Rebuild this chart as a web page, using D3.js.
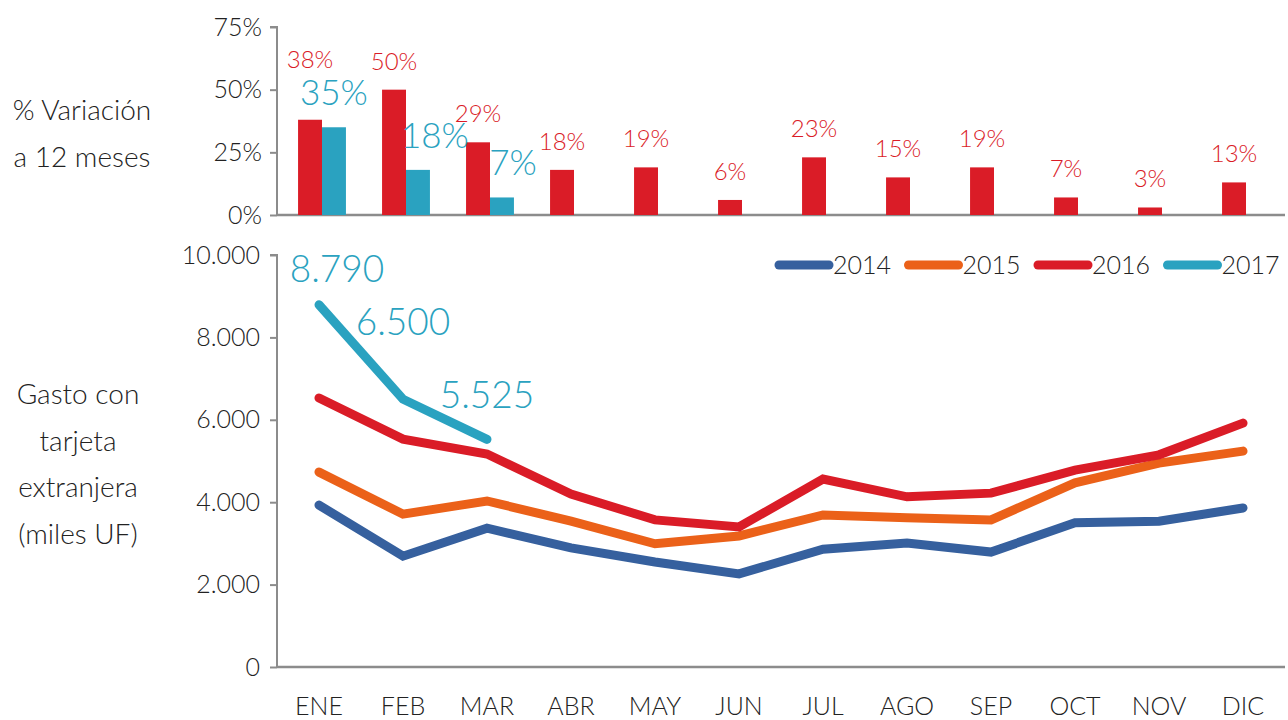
<!DOCTYPE html>
<html>
<head>
<meta charset="utf-8">
<script src="https://cdn.jsdelivr.net/npm/d3@7"></script>
<style>
  body { margin: 0; background: #fff; }
  svg { display: block; }
  svg text { font-family: Lato, "Noto Sans", sans-serif; font-weight: 300; }
</style>
</head>
<body>
<div id="chart"></div>
<script>
// data
const months = ["ENE", "FEB", "MAR", "ABR", "MAY", "JUN", "JUL", "AGO", "SEP", "OCT", "NOV", "DIC"];
const years = ["2014", "2015", "2016", "2017"];

const gasto2014 = [3930, 2690, 3370, 2890, 2550, 2260, 2860, 3010, 2790, 3500, 3540, 3860];
const gasto2015 = [4730, 3710, 4030, 3540, 2990, 3180, 3690, 3620, 3570, 4470, 4950, 5240];
const gasto2016 = [6530, 5530, 5170, 4200, 3570, 3400, 4560, 4130, 4220, 4780, 5150, 5920];
const gasto2017 = [8790, 6500, 5525];

const var2016 = [0.38, 0.50, 0.29, 0.18, 0.19, 0.06, 0.23, 0.15, 0.19, 0.07, 0.03, 0.13];
const var2017 = [0.35, 0.18, 0.07];

const pctTicks = [0, 0.25, 0.5, 0.75];
const gastoTicks = [0, 2000, 4000, 6000, 8000, 10000];

const colors = { "2014": "#36609e", "2015": "#eb6119", "2016": "#da1c27", "2017": "#2aa2c0" };

// 1) svg
const width = 1288, height = 720;
const svg = d3.select("#chart").append("svg")
  .attr("width", width).attr("height", height);

const left = 277, right = 1285;
const axisColor = "#8c8c8c";
const textColor = "#222";
const fmt = d3.formatLocale({ decimal: ",", thousands: ".", grouping: [3], currency: ["$", ""] });
const thousands = fmt.format(",.0f");

// 2) shared x
const x = d3.scaleBand().domain(months).range([left, right]).paddingInner(0.43).paddingOuter(0.215);
const xSub = d3.scaleBand().domain(["2016", "2017"]).range([0, x.bandwidth()]);
const xPoint = d => x(d) + x.bandwidth() / 2;
const barShift = 3;

// 3) top bar chart
const yTop = d3.scaleLinear().domain([0, 0.75]).range([215, 27]);

const topAxis = svg.append("g")
  .attr("transform", `translate(${left},0)`)
  .call(d3.axisLeft(yTop).tickValues(pctTicks).tickFormat(d3.format(".0%")).tickSize(7).tickPadding(8));
topAxis.attr("font-family", null);
topAxis.select(".domain").attr("d", `M-7,${yTop(0.75)}H0V${yTop(0)}`);
topAxis.selectAll("line, path").attr("stroke", axisColor).attr("stroke-width", 2);
topAxis.selectAll("text").attr("fill", textColor).style("font-size", "25px");

svg.append("line")
  .attr("x1", left).attr("x2", right).attr("y1", yTop(0)).attr("y2", yTop(0))
  .attr("stroke", axisColor).attr("stroke-width", 2.5);

const bars16 = var2016.map((v, i) => ({ m: months[i], v }));
const bars17 = var2017.map((v, i) => ({ m: months[i], v }));

svg.append("g").selectAll("rect").data(bars16).join("rect")
  .attr("x", d => x(d.m) + xSub("2016") + barShift)
  .attr("width", xSub.bandwidth())
  .attr("y", d => yTop(d.v))
  .attr("height", d => yTop(0) - yTop(d.v))
  .attr("fill", colors["2016"]);

svg.append("g").selectAll("rect").data(bars17).join("rect")
  .attr("x", d => x(d.m) + xSub("2017") + barShift)
  .attr("width", xSub.bandwidth())
  .attr("y", d => yTop(d.v))
  .attr("height", d => yTop(0) - yTop(d.v))
  .attr("fill", colors["2017"]);

// red labels, first one lifted above the cyan label
svg.append("g").selectAll("text").data(bars16).join("text")
  .attr("x", d => x(d.m) + xSub("2016") + xSub.bandwidth() / 2 + barShift)
  .attr("y", (d, i) => i === 0 ? yTop(0.5) - 22 : yTop(d.v) - 20)
  .attr("text-anchor", "middle")
  .attr("fill", colors["2016"])
  .style("font-size", "24px")
  .text(d => Math.round(d.v * 100) + "%");

const cyanNudge = [0, 17, 11];
svg.append("g").selectAll("text").data(bars17).join("text")
  .attr("x", (d, i) => x(d.m) + xSub("2017") + xSub.bandwidth() / 2 + barShift + cyanNudge[i])
  .attr("y", d => yTop(d.v) - 22)
  .attr("text-anchor", "middle")
  .attr("fill", colors["2017"])
  .style("font-size", "35px")
  .text(d => Math.round(d.v * 100) + "%");

// left titles
svg.append("text").attr("x", 82).attr("y", 120).attr("text-anchor", "middle")
  .attr("fill", textColor).style("font-size", "28px").text("% Variación");
svg.append("text").attr("x", 82).attr("y", 167).attr("text-anchor", "middle")
  .attr("fill", textColor).style("font-size", "28px").text("a 12 meses");

const gastoTitle = ["Gasto con", "tarjeta", "extranjera", "(miles UF)"];
svg.append("g").selectAll("text").data(gastoTitle).join("text")
  .attr("x", 78).attr("y", (d, i) => 404 + i * 46.5)
  .attr("text-anchor", "middle").attr("fill", textColor).style("font-size", "28px")
  .text(d => d);

// 4) bottom line chart
const y = d3.scaleLinear().domain([0, 10000]).range([667, 255]);

const yAxis = svg.append("g")
  .attr("transform", `translate(${left},0)`)
  .call(d3.axisLeft(y).tickValues(gastoTicks).tickFormat(thousands).tickSize(7).tickPadding(10));
yAxis.attr("font-family", null);
yAxis.select(".domain").attr("d", `M-7,${y(10000)}H0V${y(0)}`);
yAxis.selectAll("line, path").attr("stroke", axisColor).attr("stroke-width", 2);
yAxis.selectAll("text").attr("fill", textColor).style("font-size", "25px");

svg.append("line")
  .attr("x1", left).attr("x2", right).attr("y1", y(0)).attr("y2", y(0))
  .attr("stroke", axisColor).attr("stroke-width", 2.5);

svg.append("g").selectAll("text").data(months).join("text")
  .attr("x", d => xPoint(d))
  .attr("y", 715)
  .attr("text-anchor", "middle")
  .attr("fill", textColor)
  .style("font-size", "25px")
  .text(d => d);

const series = [
  { year: "2014", values: gasto2014 },
  { year: "2015", values: gasto2015 },
  { year: "2016", values: gasto2016 },
  { year: "2017", values: gasto2017 }
];

const line = d3.line()
  .x((d, i) => xPoint(months[i]))
  .y(d => y(d));

svg.append("g").selectAll("path").data(series).join("path")
  .attr("d", d => line(d.values))
  .attr("fill", "none")
  .attr("stroke", d => colors[d.year])
  .attr("stroke-width", 9)
  .attr("stroke-linecap", "round")
  .attr("stroke-linejoin", "miter");

// 2017 value labels
const labelNudge = [{ dx: 18, dy: -23 }, { dx: 0, dy: -64 }, { dx: 0, dy: -31 }];
svg.append("g").selectAll("text").data(gasto2017).join("text")
  .attr("x", (d, i) => xPoint(months[i]) + labelNudge[i].dx)
  .attr("y", (d, i) => y(d) + labelNudge[i].dy)
  .attr("text-anchor", "middle")
  .attr("fill", colors["2017"])
  .style("font-size", "37px")
  .text(d => thousands(d));

// 5) legend
const legend = svg.append("g").selectAll("g").data(years).join("g")
  .attr("transform", (d, i) => `translate(${779 + i * 129.5},265)`);
legend.append("line")
  .attr("x1", 0).attr("x2", 50)
  .attr("stroke", d => colors[d]).attr("stroke-width", 9).attr("stroke-linecap", "round");
legend.append("text")
  .attr("x", 54).attr("y", 9)
  .attr("fill", textColor).style("font-size", "25px")
  .text(d => d);
</script>
</body>
</html>
